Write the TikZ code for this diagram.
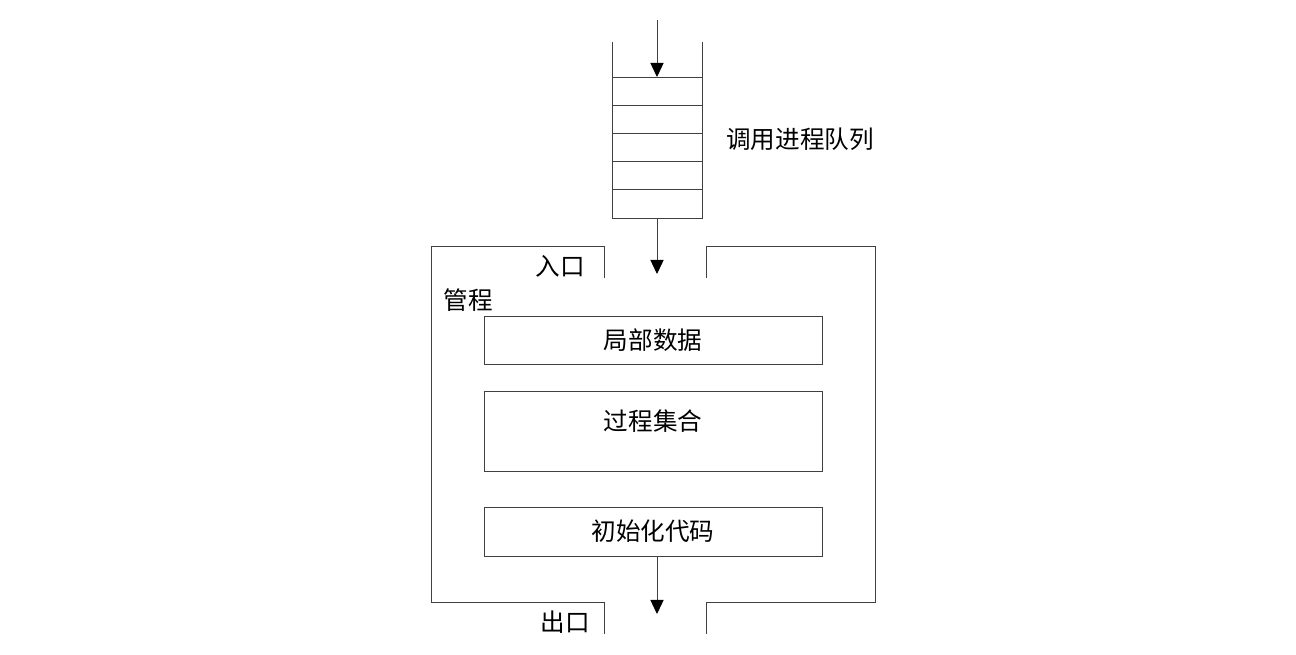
\documentclass[tikz,border=0pt]{standalone}
\usepackage{fontspec}
\setmainfont{Noto Sans CJK SC}
\usetikzlibrary{arrows.meta, positioning}

\begin{document}
\begin{tikzpicture}[
    x=0.02cm, y=-0.02cm,
    line width=0.5pt,
    >={Triangle[width=7.5pt,length=8pt,color=black]},
    ln/.style={draw=black!75},
    cell/.style={ln, minimum width=1.8cm, minimum height=0.564cm,
                 inner sep=0pt, outer sep=0pt},
    part/.style={ln, minimum width=6.76cm, inner sep=0pt},
    lbl/.style={font=\fontsize{14}{16}\selectfont, inner sep=0pt}
  ]
  \useasboundingbox (0,0) rectangle (1296,654);

  % Queue of calling processes
  \foreach \i in {1,...,5}
    \node[cell] (q\i) at (657, 77+28.2*\i-14.1) {};
  \draw[ln] (q1.north west) ++(0,-35) -- (q5.south west);
  \draw[ln] (q1.north east) ++(0,-35) -- (q5.south east);
  \node[lbl] (qlbl) at (800, 139) {调用进程队列};

  \coordinate (qin) at (657, 20);
  \draw[ln, ->] (qin) -- (q1.north);

  % Monitor outline
  \coordinate (tl) at (431, 246);
  \coordinate (tr) at (875, 246);
  \coordinate (bl) at (431, 602);
  \coordinate (br) at (875, 602);
  \coordinate (inl) at (604, 278);
  \coordinate (inr) at (706, 278);
  \coordinate (outl) at (604, 634);
  \coordinate (outr) at (706, 634);

  \draw[ln] (inl) |- (tl) -- (bl) -| (outl);
  \draw[ln] (inr) |- (tr) -- (br) -| (outr);

  \coordinate (entry) at (657, 274);
  \draw[ln, ->] (q5.south) -- (entry);

  \node[lbl] (inlbl) at (560, 266) {入口};
  \node[lbl] (outlbl) at (565, 622) {出口};
  \node[lbl] (mon) at (468, 300) {管程};

  % Parts of the monitor
  \node[part, minimum height=0.96cm] (data) at (653, 340) {};
  \node[lbl] at (data) {局部数据};

  \node[part, minimum height=1.6cm] (procs) at (653, 431) {};
  \node[lbl] (procslbl) at (653, 421) {过程集合};

  \node[part, minimum height=0.98cm] (init) at (653, 531.5) {};
  \node[lbl] at (init) {初始化代码};

  \coordinate (exit) at (657, 614);
  \draw[ln, ->] (init.south -| exit) -- (exit);
\end{tikzpicture}
\end{document}
